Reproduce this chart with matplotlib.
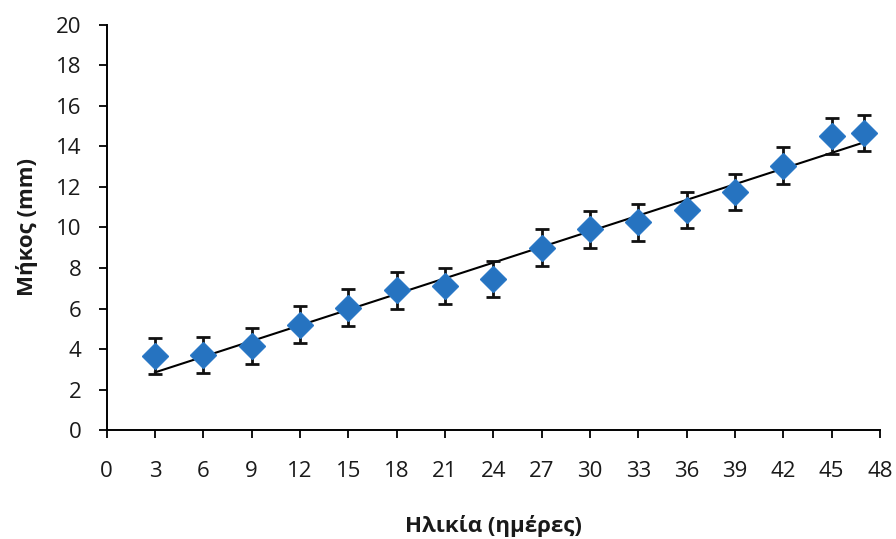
import matplotlib.pyplot as plt
import numpy as np

plt.rcParams["font.family"] = ["Open Sans", "DejaVu Sans"]

AGE_DAYS = [3, 6, 9, 12, 15, 18, 21, 24, 27, 30, 33, 36, 39, 42, 45, 47]
LENGTH_MM = [3.65, 3.7, 4.15, 5.2, 6.05, 6.9, 7.1, 7.45, 9.0, 9.9, 10.25, 10.85, 11.75, 13.05, 14.5, 14.65]
LENGTH_ERR = [0.9, 0.9, 0.9, 0.9, 0.9, 0.9, 0.9, 0.9, 0.9, 0.9, 0.9, 0.9, 0.9, 0.9, 0.9, 0.9]
X_TICKS = list(range(0, 49, 3))
Y_TICKS = list(range(0, 21, 2))


def main():
    fig = plt.figure(figsize=(8.96, 5.39), dpi=100)
    ax = fig.add_axes([0.119, 0.202, 0.863, 0.752])

    x = np.array(AGE_DAYS)
    y = np.array(LENGTH_MM)

    # linear trendline, like Excel
    slope, intercept = np.polyfit(x, y, 1)
    xs = np.array([x.min(), x.max()])
    ax.plot(xs, slope * xs + intercept, color="black", lw=1.5, zorder=2)

    ax.errorbar(x, y, yerr=LENGTH_ERR, fmt="none", ecolor="#111111",
                elinewidth=2.0, capsize=5, capthick=2.0, zorder=3)
    ax.plot(x, y, "D", color="#2673C0", markersize=13, mec="#2a78c6", zorder=4)

    ax.set_xlim(0, 48)
    ax.set_ylim(0, 20)
    ax.set_xticks(X_TICKS)
    ax.set_yticks(Y_TICKS)
    ax.tick_params(axis="both", labelsize=16, width=1.3, length=6, direction="out",
                   labelcolor="#1a1a1a")
    ax.tick_params(axis="x", pad=16)
    ax.tick_params(axis="y", pad=12)
    for side in ("top", "right"):
        ax.spines[side].set_visible(False)
    for side in ("left", "bottom"):
        ax.spines[side].set_linewidth(1.4)

    ax.set_xlabel("Ηλικία (ημέρες)", fontsize=16, fontweight="bold", labelpad=24,
                  color="#1a1a1a")
    ax.set_ylabel("Μήκος (mm)", fontsize=16, fontweight="bold", labelpad=13,
                  color="#1a1a1a")

    fig.savefig("out.png", dpi=100)


if __name__ == "__main__":
    main()
